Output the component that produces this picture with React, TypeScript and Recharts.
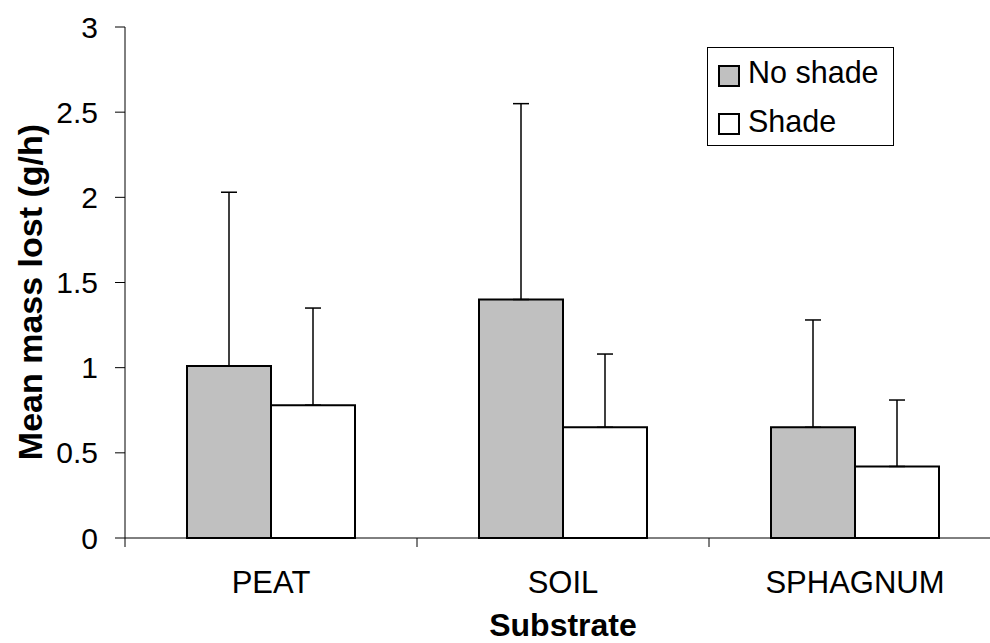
import { Bar, BarChart, ErrorBar, Legend, XAxis, YAxis } from 'recharts';

const categories = ['PEAT', 'SOIL', 'SPHAGNUM'];
const noShade = [1.01, 1.4, 0.65];
const noShadeErr = [1.02, 1.15, 0.63];
const shade = [0.78, 0.65, 0.42];
const shadeErr = [0.57, 0.43, 0.39];
const yTicks = [0, 0.5, 1, 1.5, 2, 2.5, 3];

const FONT = "'Liberation Sans', Arial, sans-serif";
const X_TICK_MARGIN = 33;
const X_TICK_LEN = 9;

const chartData = categories.map((name, i) => ({
  name,
  noShade: noShade[i],
  noShadeErr: [0, noShadeErr[i]],
  shade: shade[i],
  shadeErr: [0, shadeErr[i]],
}));

// tick marks sit between categories (Excel style), labels at the centre
function CategoryTick(props: any) {
  const { x, y, payload } = props;
  const half = payload?.offset ?? 0;
  const axisY = y - X_TICK_MARGIN;
  return (
    <g>
      <line
        x1={x - half}
        x2={x - half}
        y1={axisY}
        y2={axisY + X_TICK_LEN}
        stroke='#000'
        strokeWidth={1}
      />
      <text
        x={x}
        y={y}
        dy='0.71em'
        textAnchor='middle'
        fontSize={31}
        fontFamily={FONT}
        fill='#000'
      >
        {payload.value}
      </text>
    </g>
  );
}

function LegendBox() {
  return (
    <svg width={187} height={99} style={{ display: 'block' }}>
      <rect x={0.5} y={0.5} width={186} height={98} fill='#fff' stroke='#000' strokeWidth={1} />
      <rect x={12} y={19} width={20} height={20} fill='#c0c0c0' stroke='#000' strokeWidth={2} />
      <text x={41} y={36} fontSize={30.5} fontFamily={FONT} fill='#000'>
        No shade
      </text>
      <rect x={12} y={67} width={20} height={20} fill='#fff' stroke='#000' strokeWidth={2} />
      <text x={41} y={85} fontSize={30.5} fontFamily={FONT} fill='#000'>
        Shade
      </text>
    </svg>
  );
}

export default function App() {
  return (
    <div
      style={{
        position: 'absolute',
        left: 0,
        top: 0,
        width: 990,
        height: 643,
        overflow: 'hidden',
        background: '#fff',
      }}
    >
      <BarChart
        width={1010}
        height={643}
        data={chartData}
        margin={{ top: 27, right: 9, bottom: 0, left: 0 }}
        barCategoryGap={62}
        barGap={0}
      >
        <XAxis
          dataKey='name'
          height={105}
          axisLine={{ stroke: '#000', strokeWidth: 1 }}
          tickLine={false}
          tickSize={0}
          tickMargin={X_TICK_MARGIN}
          tick={<CategoryTick />}
          interval={0}
          label={{
            value: 'Substrate',
            position: 'insideBottom',
            offset: 7,
            fontSize: 32,
            fontWeight: 'bold',
            fontFamily: FONT,
            fill: '#000',
          }}
        />
        <YAxis
          width={125}
          domain={[0, 3]}
          ticks={yTicks}
          interval={0}
          axisLine={{ stroke: '#000', strokeWidth: 1 }}
          tickLine={{ stroke: '#000', strokeWidth: 1 }}
          tickSize={10}
          tickMargin={17}
          tick={{ fontSize: 30, fontFamily: FONT, fill: '#000' }}
          label={{
            value: 'Mean mass lost (g/h)',
            angle: -90,
            position: 'center',
            dx: -33,
            dy: 9.5,
            fontSize: 34,
            fontWeight: 'bold',
            fontFamily: FONT,
            fill: '#000',
          }}
        />
        <Legend
          layout='horizontal'
          verticalAlign='middle'
          align='center'
          content={<LegendBox />}
          wrapperStyle={{ left: 707, top: 47, width: 187, height: 99 }}
        />
        <Bar
          dataKey='noShade'
          name='No shade'
          fill='#c0c0c0'
          stroke='#000'
          strokeWidth={2}
          isAnimationActive={false}
        >
          <ErrorBar dataKey='noShadeErr' direction='y' width={8} stroke='#000' strokeWidth={1.5} />
        </Bar>
        <Bar
          dataKey='shade'
          name='Shade'
          fill='#ffffff'
          stroke='#000'
          strokeWidth={2}
          isAnimationActive={false}
        >
          <ErrorBar dataKey='shadeErr' direction='y' width={8} stroke='#000' strokeWidth={1.5} />
        </Bar>
      </BarChart>
    </div>
  );
}
